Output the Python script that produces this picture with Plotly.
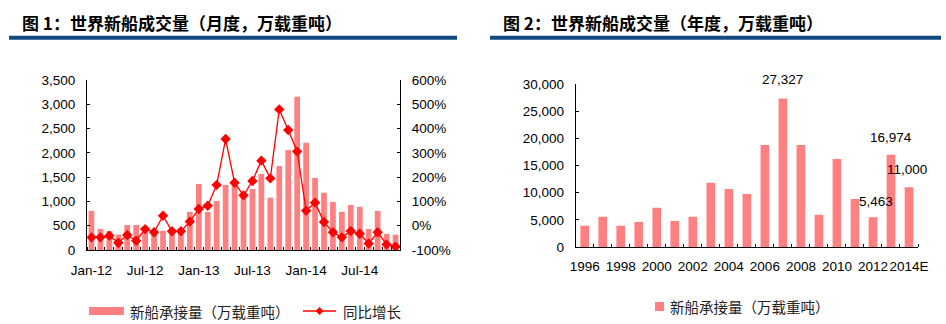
import plotly.graph_objects as go

# ---------------- data ----------------
months = ["Jan-12","Feb-12","Mar-12","Apr-12","May-12","Jun-12","Jul-12","Aug-12","Sep-12","Oct-12","Nov-12","Dec-12",
          "Jan-13","Feb-13","Mar-13","Apr-13","May-13","Jun-13","Jul-13","Aug-13","Sep-13","Oct-13","Nov-13","Dec-13",
          "Jan-14","Feb-14","Mar-14","Apr-14","May-14","Jun-14","Jul-14","Aug-14","Sep-14","Oct-14","Nov-14"]
monthly_orders = [805, 435, 390, 318, 515, 515, 460, 420, 395, 400, 380, 785,
                  1360, 785, 1010, 1340, 1370, 1180, 1256, 1565, 1077, 1729, 2058, 3156,
                  2209, 1485, 1177, 990, 785, 926, 888, 432, 803, 332, 315]
monthly_yoy = [-48, -48, -41, -70, -38, -62, -14, -27, 41, -23, -23, 17,
               69, 82, 168, 357, 177, 125, 184, 268, 195, 479, 394, 306,
               62, 95, 15, -27, -48, -22, -33, -73, -27, -77, -86]
month_tick_labels = ["Jan-12", "Jul-12", "Jan-13", "Jul-13", "Jan-14", "Jul-14"]
left_ticks = [0, 500, 1000, 1500, 2000, 2500, 3000, 3500]
pct_ticks = [-100, 0, 100, 200, 300, 400, 500, 600]

years = ["1996","1997","1998","1999","2000","2001","2002","2003","2004","2005",
         "2006","2007","2008","2009","2010","2011","2012","2013","2014E"]
yearly_orders = [3900, 5580, 3900, 4600, 7240, 4790, 5580, 11840, 10670, 9750,
                 18770, 27327, 18770, 5950, 16200, 8830, 5463, 16974, 11000]
year_tick_labels = ["1996","1998","2000","2002","2004","2006","2008","2010","2012","2014E"]
labeled_years = ["2007", "2012", "2013", "2014E"]
right_ticks = [0, 5000, 10000, 15000, 20000, 25000, 30000]

title1 = "图 1：世界新船成交量（月度，万载重吨）"
title2 = "图 2：世界新船成交量（年度，万载重吨）"
legend_bar = "新船承接量（万载重吨）"
legend_line = "同比增长"

# ---------------- style ----------------
W, H = 946, 324
BAR = "#FF8080"
RED = "#FF0000"
NAVY = "#124A80"
FONT = "Arial, Liberation Sans, sans-serif"
CJK = "Noto Sans CJK SC"
FS = 13.5

def px(x):
    return x / W

def py(y):
    return 1 - y / H

mx = list(range(len(months)))
yx = list(range(len(years)))

fig = go.Figure()
fig.add_trace(go.Bar(x=mx, y=monthly_orders, marker=dict(color=BAR, line=dict(width=0)),
                     xaxis="x", yaxis="y", showlegend=False))
fig.add_trace(go.Scatter(x=mx, y=monthly_yoy, mode="lines+markers",
                         line=dict(color=RED, width=1.3),
                         marker=dict(symbol="diamond", size=8, color=RED),
                         xaxis="x", yaxis="y2", showlegend=False))
fig.add_trace(go.Bar(x=yx, y=yearly_orders, width=0.48, marker=dict(color=BAR, line=dict(width=0)),
                     xaxis="x2", yaxis="y3", showlegend=False))

axis_common = dict(showgrid=False, zeroline=False, showline=True, linecolor="black", linewidth=1,
                   automargin=False, tickangle=0,
                   tickfont=dict(family=FONT, size=FS, color="black"), fixedrange=True)

fig.update_layout(
    width=W, height=H, autosize=False,
    margin=dict(l=0, r=0, t=0, b=0, autoexpand=False),
    paper_bgcolor="white", plot_bgcolor="white",
    bargap=0.36,
    xaxis=dict(domain=[px(87), px(400)], range=[-0.5, len(months) - 0.5], anchor="y",
               tickmode="array", tickvals=[months.index(t) for t in month_tick_labels],
               ticktext=month_tick_labels, ticks="", ticklabelstandoff=8,
               minor=dict(tickmode="linear", tick0=-0.5, dtick=1, ticks="inside", ticklen=3,
                          tickcolor="black", showgrid=False),
               **axis_common),
    yaxis=dict(domain=[py(250), py(80)], range=[0, 3500], anchor="x",
               tickmode="array", tickvals=left_ticks, ticktext=[f"{v:,}" for v in left_ticks],
               ticks="inside", ticklen=3, tickcolor="black", ticklabelstandoff=8,
               **axis_common),
    yaxis2=dict(domain=[py(250), py(80)], range=[-100, 600], anchor="x", overlaying="y", side="right",
                tickmode="array", tickvals=pct_ticks, ticktext=[f"{v}%" for v in pct_ticks],
                ticks="inside", ticklen=3, tickcolor="black", ticklabelstandoff=8,
                **axis_common),
    xaxis2=dict(domain=[px(575.7), px(918)], range=[-0.5, len(years) - 0.5], anchor="y3",
                tickmode="array", tickvals=[years.index(t) for t in year_tick_labels],
                ticktext=year_tick_labels, ticks="", ticklabelstandoff=7,
                minor=dict(tickmode="linear", tick0=-0.5, dtick=1, ticks="inside", ticklen=3,
                           tickcolor="black", showgrid=False),
                **axis_common),
    yaxis3=dict(domain=[py(247), py(84)], range=[0, 30000], anchor="x2",
                tickmode="array", tickvals=right_ticks, ticktext=[f"{v:,}" for v in right_ticks],
                ticks="inside", ticklen=3, tickcolor="black", ticklabelstandoff=8,
                **axis_common),
)

annotations = []
shapes = []

# titles and rules
annotations.append(dict(x=px(20), y=py(23), xref="paper", yref="paper", xanchor="left", yanchor="middle",
                        text=f"<b>{title1}</b>", showarrow=False,
                        font=dict(family=CJK, size=17, color="black")))
annotations.append(dict(x=px(501), y=py(23), xref="paper", yref="paper", xanchor="left", yanchor="middle",
                        text=f"<b>{title2}</b>", showarrow=False,
                        font=dict(family=CJK, size=17, color="black")))
shapes.append(dict(type="line", xref="paper", yref="paper", x0=px(9), x1=px(457), y0=py(37.7), y1=py(37.7),
                   line=dict(color=NAVY, width=4)))
shapes.append(dict(type="line", xref="paper", yref="paper", x0=px(490), x1=px(941), y0=py(37.7), y1=py(37.7),
                   line=dict(color=NAVY, width=4)))

# value labels on right chart
label_shift = {"2007": (0, 10), "2012": (3, 6), "2013": (0, 8), "2014E": (-2, 8)}
for yr in labeled_years:
    i = years.index(yr)
    dx, dy = label_shift[yr]
    annotations.append(dict(x=i, y=yearly_orders[i], xref="x2", yref="y3", xanchor="center", yanchor="bottom",
                            xshift=dx, yshift=dy, text=f"{yearly_orders[i]:,}", showarrow=False,
                            font=dict(family=FONT, size=FS, color="black")))

# manual legends
shapes.append(dict(type="rect", xref="paper", yref="paper", x0=px(89), x1=px(124), y0=py(315), y1=py(307),
                   fillcolor=BAR, line=dict(width=0)))
annotations.append(dict(x=px(128), y=py(311), xref="paper", yref="paper", xanchor="left", yanchor="middle",
                        text=legend_bar, showarrow=False, font=dict(family=CJK, size=14.5, color="#222")))
shapes.append(dict(type="line", xref="paper", yref="paper", x0=px(303), x1=px(336), y0=py(311), y1=py(311),
                   line=dict(color=RED, width=1.3)))
cx, cy, r = 319.5, 311, 4
shapes.append(dict(type="path", xref="paper", yref="paper",
                   path=f"M {px(cx)},{py(cy - r)} L {px(cx + r)},{py(cy)} L {px(cx)},{py(cy + r)} L {px(cx - r)},{py(cy)} Z",
                   fillcolor=RED, line=dict(width=0)))
annotations.append(dict(x=px(341), y=py(311), xref="paper", yref="paper", xanchor="left", yanchor="middle",
                        text=legend_line, showarrow=False, font=dict(family=CJK, size=14.5, color="#222")))

shapes.append(dict(type="rect", xref="paper", yref="paper", x0=px(655), x1=px(664), y0=py(311), y1=py(302),
                   fillcolor=BAR, line=dict(width=0)))
annotations.append(dict(x=px(668), y=py(306.5), xref="paper", yref="paper", xanchor="left", yanchor="middle",
                        text=legend_bar, showarrow=False, font=dict(family=CJK, size=14.5, color="#222")))

fig.update_layout(annotations=annotations, shapes=shapes)

fig.write_html("out.html")
